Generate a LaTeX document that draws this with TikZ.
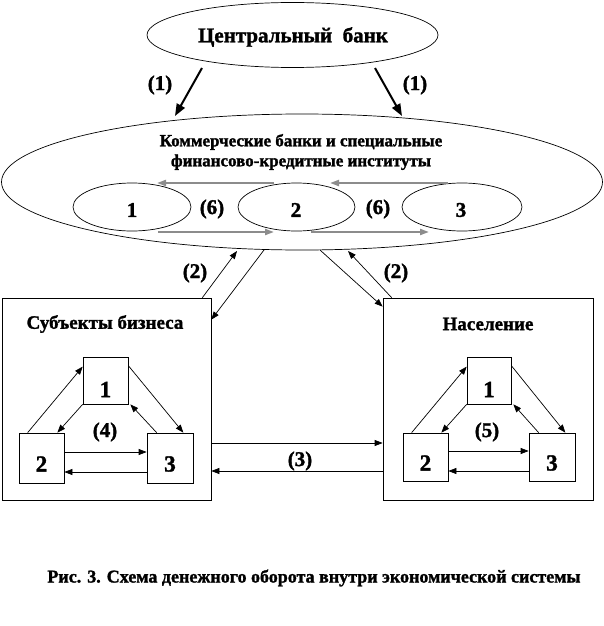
\documentclass[tikz,border=0pt]{standalone}
\usepackage{fontspec}
\setmainfont{Liberation Serif}[BoldFeatures={FakeBold=1.5}]
\usetikzlibrary{shapes.geometric,arrows.meta}
\definecolor{garr}{RGB}{140,140,140}
\begin{document}
\begin{tikzpicture}[x=1pt,y=-1pt,
  ell/.style={draw,ellipse,inner sep=0pt,line width=0.7pt},
  bx/.style={draw,rectangle,inner sep=0pt,line width=0.7pt},
  txt/.style={inner sep=0pt,font=\bfseries\fontsize{#1}{#1}\selectfont},
  arr/.style={-{Triangle[length=8pt,width=6pt]},line width=0.7pt},
  bigarr/.style={-{Triangle[length=12pt,width=9pt]},line width=2pt},
  grayarr/.style={-{Triangle[length=9pt,width=6pt]},line width=2pt,draw=garr,fill=garr}]
\useasboundingbox (0,0) rectangle (603,626);
% central bank
\node[ell,minimum width=291pt,minimum height=65pt] (cb) at (292.5,35) {};
\node[txt=21] (cbt) at (293,37) {Центральный\ \ банк};
% commercial banks
\node[ell,minimum width=601pt,minimum height=136pt] (kb) at (302,182) {};
\node[txt=17,align=center] (kbt) at (301,152) {Коммерческие банки и специальные\\[3pt]финансово-кредитные институты};
\node[ell,minimum width=118pt,minimum height=48pt] (e1) at (132,207) {};
\node[ell,minimum width=117pt,minimum height=48pt] (e2) at (296.5,207) {};
\node[ell,minimum width=120pt,minimum height=48pt] (e3) at (462,207) {};
\node[txt=21] (e1t) at (132,210) {1};
\node[txt=21] (e2t) at (296,210) {2};
\node[txt=21] (e3t) at (461,210) {3};
\node[txt=21] (l6a) at (212,209) {(6)};
\node[txt=21] (l6b) at (378,209) {(6)};
% gray arrows
\coordinate (g1s) at (274,183); \coordinate (g1e) at (157,183);
\coordinate (g2s) at (448,183); \coordinate (g2e) at (330,183);
\coordinate (g3s) at (158,232); \coordinate (g3e) at (274,232);
\coordinate (g4s) at (311,232); \coordinate (g4e) at (429,232);
\draw[grayarr] (g1s) -- (g1e);
\draw[grayarr] (g2s) -- (g2e);
\draw[grayarr] (g3s) -- (g3e);
\draw[grayarr] (g4s) -- (g4e);
% (1) arrows
\coordinate (a1s) at (202,68); \coordinate (a1e) at (175,116);
\coordinate (a2s) at (375,68); \coordinate (a2e) at (402,116);
\draw[bigarr] (a1s) -- (a1e);
\draw[bigarr] (a2s) -- (a2e);
\node[txt=21] (l1a) at (160,85) {(1)};
\node[txt=21] (l1b) at (415,85) {(1)};
% outer boxes
\node[bx,minimum width=209pt,minimum height=202pt] (sb) at (106.5,399) {};
\node[bx,minimum width=210pt,minimum height=202pt] (pop) at (488,399) {};
\node[txt=19] (sbt) at (105,324) {Субъекты бизнеса};
\node[txt=19] (popt) at (488,324) {Население};
% inner boxes
\node[bx,minimum width=45pt,minimum height=47pt] (L1) at (105.5,380.5) {};
\node[bx,minimum width=45pt,minimum height=50pt] (L2) at (41.5,458) {};
\node[bx,minimum width=46pt,minimum height=50pt] (L3) at (170,458) {};
\node[bx,minimum width=44pt,minimum height=47pt] (R1) at (489,380.5) {};
\node[bx,minimum width=45pt,minimum height=48pt] (R2) at (425.5,457) {};
\node[bx,minimum width=46pt,minimum height=48pt] (R3) at (552,457) {};
\foreach \p in {L,R}{
  \node[txt=23] at ([yshift=-9pt]\p1.center) {1};
  \node[txt=23] at ([yshift=-6pt]\p2.center) {2};
  \node[txt=23] at ([yshift=-6pt]\p3.center) {3};
  \draw[arr] ([xshift=9pt]\p2.north west) -- ([yshift=-10pt]\p1.north west);
  \draw[arr] (\p1.south west) -- ([xshift=-7pt]\p2.north east);
  \draw[arr] ([yshift=-9pt]\p1.north east) -- ([xshift=-10pt]\p3.north east);
  \draw[arr] ([xshift=10pt]\p3.north west) -- ([xshift=2pt]\p1.south east);
  \draw[arr] ([yshift=6pt]\p2.east) -- ([yshift=6pt]\p3.west);
  \draw[arr] ([yshift=-14pt]\p3.west) -- ([yshift=-14pt]\p2.east);
}
\node[txt=21] (l4) at (105,432) {(4)};
\node[txt=21] (l5) at (487,432) {(5)};
% (3) arrows
\draw[arr] ([yshift=-44pt]sb.east) -- ([yshift=-44pt]pop.west);
\draw[arr] ([yshift=-72pt]pop.west) -- ([yshift=-72pt]sb.east);
\node[txt=21] (l3) at (300,461) {(3)};
% (2) arrows
\coordinate (k1) at (237,251); \coordinate (k2) at (264,250);
\coordinate (k3) at (320,250); \coordinate (k4) at (348,251);
\draw[arr] ([xshift=-9pt]sb.north east) -- (k1);
\draw[arr] (k2) -- ([yshift=-22pt]sb.north east);
\draw[arr] (k3) -- ([yshift=-9pt]pop.north west);
\draw[arr] ([xshift=9pt]pop.north west) -- (k4);
\node[txt=21] (l2a) at (195,273) {(2)};
\node[txt=21] (l2b) at (396,273) {(2)};
% caption
\node[txt=18] (cap) at (314,578) {Рис. 3. Схема денежного оборота внутри экономической системы};
\end{tikzpicture}
\end{document}
